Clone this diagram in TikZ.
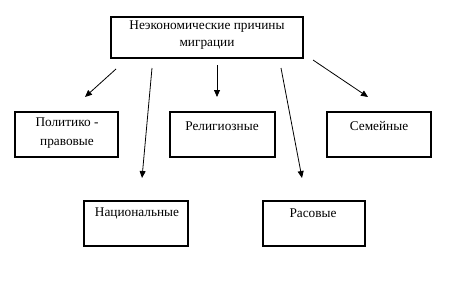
\documentclass[tikz,border=0pt]{standalone}
\usepackage{fontspec}
\setmainfont{Liberation Serif}
\usetikzlibrary{arrows.meta,positioning}

\begin{document}
\begin{tikzpicture}[x=1pt,y=-1pt,
  lab/.style={font=\fontsize{13.3}{17}\selectfont,align=center,inner sep=0pt},
  boxline/.style={draw,line width=1.1pt},
  arr/.style={line width=0.8pt,-{Triangle[length=7pt,width=6pt]}}]
\useasboundingbox (0,0) rectangle (452,281);
% boxes
\draw[boxline] (111,17) rectangle (303,58);
\draw[boxline] (15,112) rectangle (118,157);
\draw[boxline] (170,112) rectangle (275,157);
\draw[boxline] (327,112) rectangle (431,157);
\draw[boxline] (84,201) rectangle (188,246);
\draw[boxline] (263,201) rectangle (365,246);
% labels
\node[lab] (top) at (207,35) {Неэкономические причины\\миграции};
\node[lab] (pol) at (67,133) {Политико -\\[2pt]правовые};
\node[lab] (rel) at (222,126) {Религиозные};
\node[lab] (sem) at (379,126) {Семейные};
\node[lab] (nat) at (137,213) {Национальные};
\node[lab] (ras) at (313,213) {Расовые};
% arrow ends
\coordinate (s1) at (116,69);  \coordinate (e1) at (85,97);
\coordinate (s2) at (152,68);  \coordinate (e2) at (142,178);
\coordinate (s3) at (217,65);  \coordinate (e3) at (217,97);
\coordinate (s4) at (281,68);  \coordinate (e4) at (302,178);
\coordinate (s5) at (313,60);  \coordinate (e5) at (368,97);
\draw[arr] (s1) -- (e1);
\draw[arr] (s2) -- (e2);
\draw[arr] (s3) -- (e3);
\draw[arr] (s4) -- (e4);
\draw[arr] (s5) -- (e5);
\end{tikzpicture}
\end{document}
